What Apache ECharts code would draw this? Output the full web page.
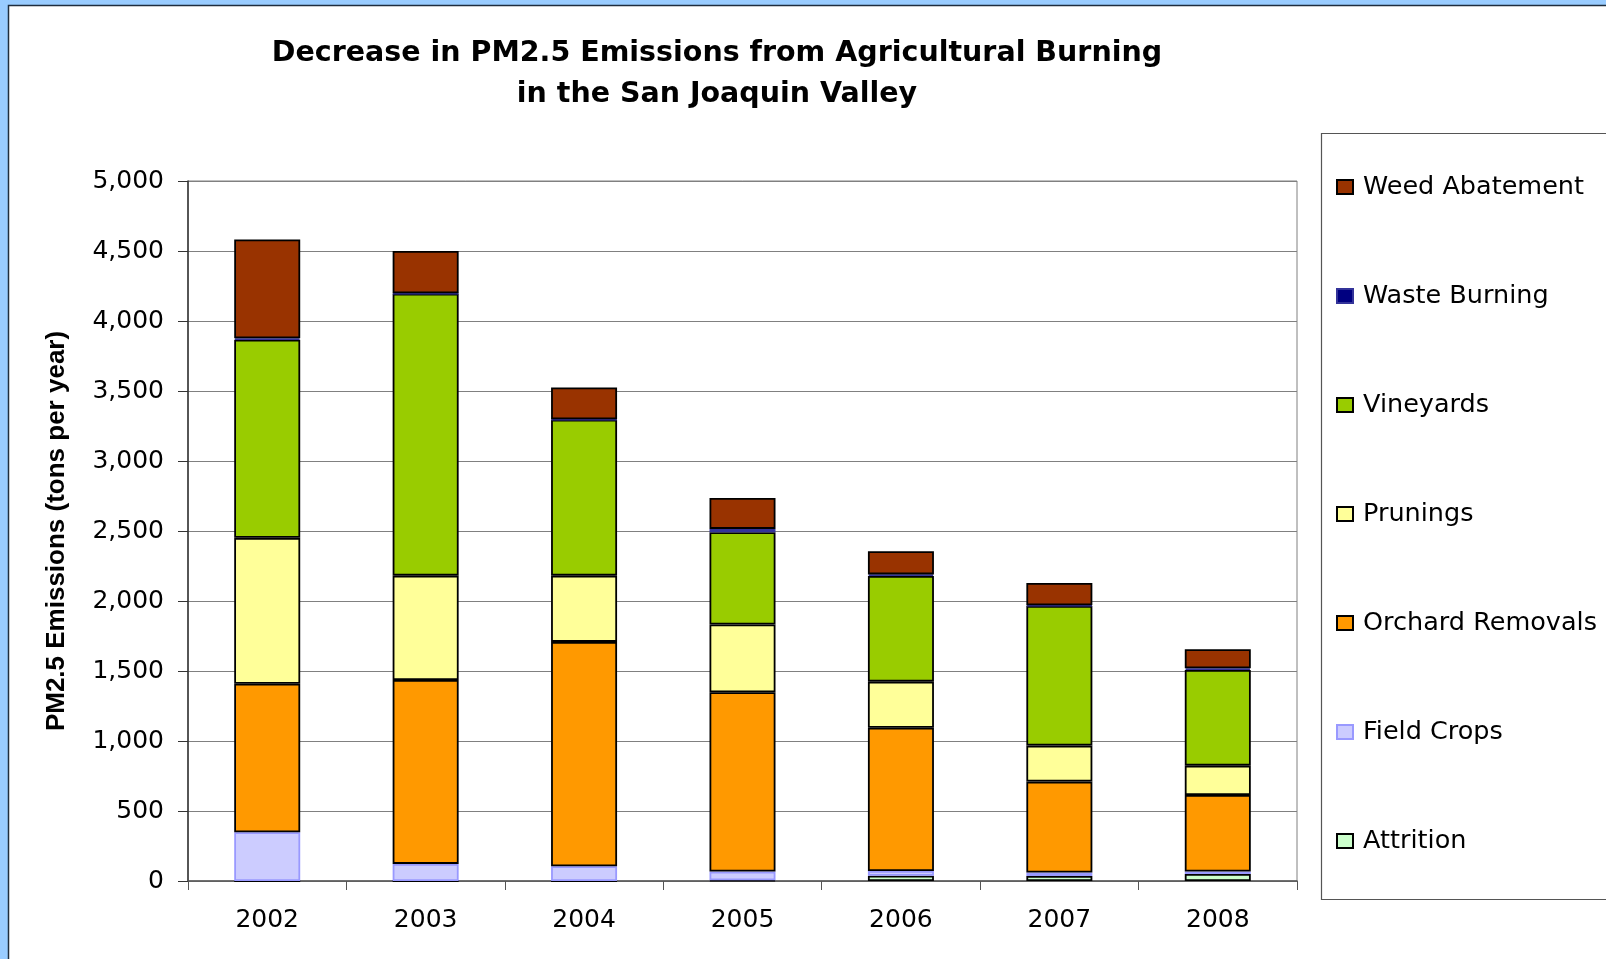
<!DOCTYPE html>
<html>
<head>
<meta charset="utf-8">
<script src="https://cdn.jsdelivr.net/npm/echarts@6/dist/echarts.min.js"></script>
<style>
  html, body { margin: 0; padding: 0; background: #99CCFF; }
  #chart { width: 1606px; height: 959px; }
</style>
</head>
<body>
<div id="chart"></div>
<script>
// ---- Data (tons per year) ----
const years = ['2002', '2003', '2004', '2005', '2006', '2007', '2008'];
const attrition      = [0,    0,    0,    5,    38,   36,   50];
const fieldCrops     = [348,  122,  105,  62,   33,   25,   17];
const orchardRemovals= [1061, 1314, 1603, 1281, 1024, 649,  547];
const prunings       = [1042, 745,  473,  484,  329,  257,  210];
const vineyards      = [1415, 2014, 1114, 659,  755,  997,  683];
const wasteBurning   = [10,   3,    3,    24,   11,   5,    12];
const weedAbatement  = [707,  302,  227,  221,  165,  160,  136];
const yTicks = [0, 500, 1000, 1500, 2000, 2500, 3000, 3500, 4000, 4500, 5000];

const seriesDefs = [
  { name: 'Attrition',        data: attrition,       color: '#CCFFCC', border: '#000000' },
  { name: 'Field Crops',      data: fieldCrops,      color: '#CCCCFF', border: '#9999FF' },
  { name: 'Orchard Removals', data: orchardRemovals, color: '#FF9900', border: '#000000' },
  { name: 'Prunings',         data: prunings,        color: '#FFFF99', border: '#000000' },
  { name: 'Vineyards',        data: vineyards,       color: '#99CC00', border: '#000000' },
  { name: 'Waste Burning',    data: wasteBurning,    color: '#000080', border: '#333399' },
  { name: 'Weed Abatement',   data: weedAbatement,   color: '#993300', border: '#000000' }
];

const chart = echarts.init(document.getElementById('chart'), null, { renderer: 'canvas' });

const option = {
  backgroundColor: 'transparent',
  animation: false,
  graphic: [
    {
      type: 'rect', z: -10, silent: true,
      shape: { x: 8.5, y: 5.5, width: 1620, height: 980 },
      style: { fill: '#FFFFFF', stroke: '#1F2D3D', lineWidth: 1.5 }
    },
    {
      type: 'rect', z: -5, silent: true,
      shape: { x: 1321.5, y: 133.5, width: 320, height: 766 },
      style: { fill: '#FFFFFF', stroke: '#555555', lineWidth: 1.2 }
    }
  ],
  title: {
    text: 'Decrease in PM2.5 Emissions from Agricultural Burning\nin the San Joaquin Valley',
    left: 712,
    textAlign: 'center',
    top: 28,
    textStyle: {
      fontFamily: 'DejaVu Sans',
      fontWeight: 'bold',
      fontSize: 28.5,
      lineHeight: 41,
      color: '#000000'
    }
  },
  legend: {
    orient: 'vertical',
    left: 1336,
    top: 173,
    padding: 0,
    itemWidth: 16,
    itemHeight: 14,
    itemGap: 81,
    icon: 'rect',
    data: seriesDefs.map(s => s.name).reverse(),
    textStyle: {
      fontFamily: 'DejaVu Sans',
      fontSize: 25.5,
      lineHeight: 28,
      color: '#000000',
      padding: [0, 0, 0, 5]
    }
  },
  grid: {
    left: 188,
    right: 309,
    top: 181,
    bottom: 78,
    containLabel: false,
    outerBoundsMode: 'none',
    show: true,
    backgroundColor: 'transparent',
    borderColor: '#808080',
    borderWidth: 1
  },
  xAxis: {
    type: 'category',
    data: years,
    axisLine: { show: true, lineStyle: { color: '#555555', width: 1.5 } },
    axisTick: { show: true, length: 9, lineStyle: { color: '#555555', width: 1 } },
    axisLabel: {
      fontFamily: 'DejaVu Sans',
      fontSize: 25,
      color: '#000000',
      margin: 27
    }
  },
  yAxis: {
    type: 'value',
    min: 0,
    max: 5000,
    interval: 500,
    name: 'PM2.5 Emissions (tons per year)',
    nameLocation: 'middle',
    nameGap: 118,
    nameTextStyle: {
      fontFamily: 'Liberation Sans',
      fontWeight: 'bold',
      fontSize: 26,
      color: '#000000'
    },
    axisLine: { show: true, lineStyle: { color: '#333333', width: 1.5 } },
    axisTick: { show: true, length: 10, inside: false, lineStyle: { color: '#333333', width: 1 } },
    axisLabel: {
      fontFamily: 'DejaVu Sans',
      fontSize: 25,
      color: '#000000',
      margin: 24,
      formatter: v => yTicks.includes(v) ? v.toLocaleString('en-US') : ''
    },
    splitLine: { show: true, lineStyle: { color: '#808080', width: 1.2 } }
  },
  series: seriesDefs.map(s => ({
    name: s.name,
    type: 'bar',
    stack: 'total',
    barWidth: 66,
    data: s.data,
    itemStyle: {
      color: s.color,
      borderColor: s.border,
      borderWidth: 1.8
    },
    emphasis: { disabled: true }
  }))
};

chart.setOption(option);
</script>
</body>
</html>
